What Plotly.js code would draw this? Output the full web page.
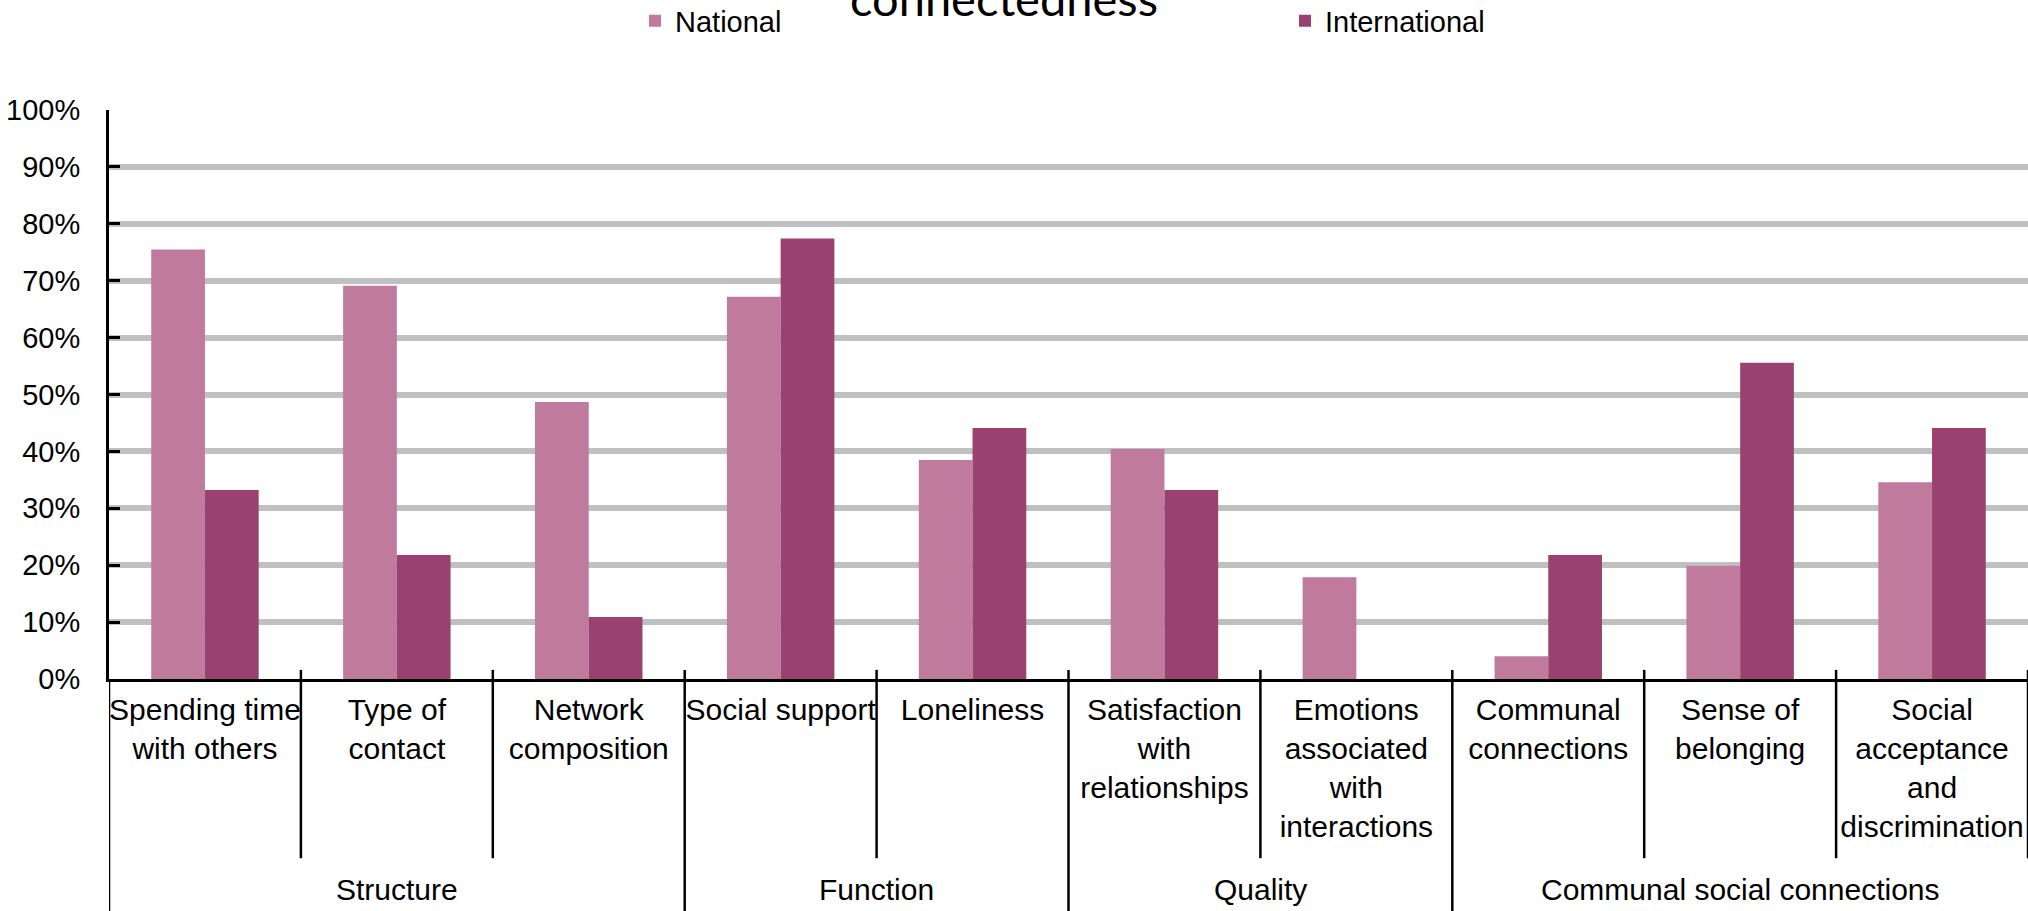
<!DOCTYPE html>
<html>
<head>
<meta charset="utf-8">
<script src="https://cdn.plot.ly/plotly-3.0.1.min.js"></script>
<style>html,body{margin:0;padding:0;background:#fff;}#chart{width:2028px;height:911px;}</style>
</head>
<body>
<div id="chart"></div>
<script>
// ---- data ----
var categories = ["Spending time with others", "Type of contact", "Network composition", "Social support", "Loneliness",
  "Satisfaction with relationships", "Emotions associated with interactions", "Communal connections", "Sense of belonging",
  "Social acceptance and discrimination"];
var tickLabels = ["Spending time<br>with others", "Type of<br>contact", "Network<br>composition", "Social support", "Loneliness",
  "Satisfaction<br>with<br>relationships", "Emotions<br>associated<br>with<br>interactions", "Communal<br>connections", "Sense of<br>belonging",
  "Social<br>acceptance<br>and<br>discrimination"];
var national =      [0.755, 0.691, 0.487, 0.672, 0.385, 0.404, 0.179, 0.040, 0.199, 0.346];
var international = [0.332, 0.218, 0.109, 0.774, 0.441, 0.332, 0.0,   0.218, 0.556, 0.441];
var seriesNames = ["National", "International"];
var groups = ["Structure", "Function", "Quality", "Communal social connections"];
var groupStart = [0, 3, 5, 7];
var groupEnd =   [2, 4, 6, 9];
var titleText = "connectedness";

// ---- styles ----
var sans = "Liberation Sans, Arial, sans-serif";
var colNat = "#C07A9E", colInt = "#9B4172";

var traces = [
  {type: "bar", name: seriesNames[0], x: categories, y: national,
   marker: {color: colNat, line: {width: 0}}, hoverinfo: "x+y"},
  {type: "bar", name: seriesNames[1], x: categories, y: international,
   marker: {color: colInt, line: {width: 0}}, hoverinfo: "x+y"}
];

var shapes = [];
var annotations = [];
var groupBounds = {};
for (var g = 0; g < groups.length; g++) { groupBounds[groupStart[g] - 0.5] = true; }
for (var i = 0; i <= categories.length; i++) {
  var xb = i - 0.5;
  var isGroup = !!groupBounds[xb];
  shapes.push({type: "line", xref: "x", yref: "paper", x0: xb, x1: xb,
    y0: (i === 0 ? 0 : 0.016), y1: isGroup ? -0.45 : -0.315,
    line: {color: "#000", width: 2.5}});
}
for (var g2 = 0; g2 < groups.length; g2++) {
  annotations.push({xref: "x", yref: "paper", x: (groupStart[g2] + groupEnd[g2]) / 2, y: -0.37,
    yanchor: "middle", xanchor: "center", showarrow: false, text: groups[g2],
    font: {family: sans, size: 30, color: "#000"}});
}

var layout = {
  width: 2028, height: 911,
  margin: {l: 109, r: 0, t: 110, b: 232, pad: 0},
  paper_bgcolor: "#fff", plot_bgcolor: "#fff",
  barmode: "group", bargap: 0.44, bargroupgap: 0,
  title: {text: titleText, x: 1004 / 2028, xanchor: "center", xref: "container", y: 1, yanchor: "middle", yref: "container",
    font: {family: "Lato, Open Sans, sans-serif", size: 47, color: "#000"}},
  showlegend: true,
  legend: {orientation: "h", x: 635 / 2028, xanchor: "left", xref: "container", y: 1 - 21 / 911, yanchor: "middle", yref: "container",
    entrywidth: 605, entrywidthmode: "pixels", font: {family: sans, size: 29, color: "#000"},
    bgcolor: "rgba(0,0,0,0)", itemclick: false, itemdoubleclick: false, traceorder: "normal"},
  xaxis: {type: "category", tickvals: categories, ticktext: tickLabels, tickangle: 0,
    showline: true, linecolor: "#000", linewidth: 3, ticks: "", showgrid: false, zeroline: false,
    ticklabelstandoff: 2, tickfont: {family: sans, size: 30, color: "#000"}, fixedrange: true,
    range: [-0.5, 9.5]},
  yaxis: {range: [0, 1], dtick: 0.1, tickformat: ".0%", showline: true, linecolor: "#000", linewidth: 3,
    ticks: "inside", ticklen: 11, tickwidth: 3, tickcolor: "#000",
    showgrid: true, gridcolor: "#c0c0c0", gridwidth: 6, zeroline: false,
    ticklabelstandoff: 20, tickfont: {family: sans, size: 29, color: "#000"}, fixedrange: true},
  shapes: shapes,
  annotations: annotations
};

Plotly.newPlot("chart", traces, layout, {displayModeBar: false, staticPlot: true});
</script>
</body>
</html>
